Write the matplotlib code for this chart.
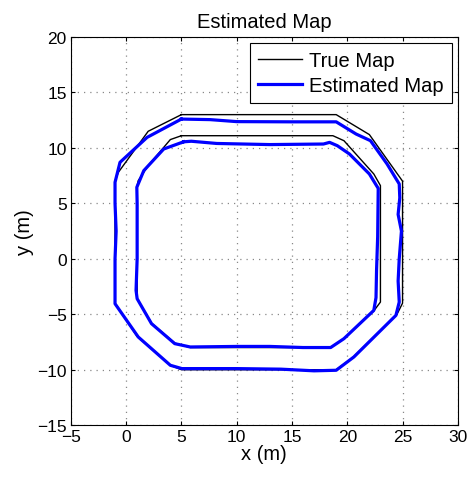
import numpy as np
import matplotlib
matplotlib.use("Agg")
import matplotlib.pyplot as plt

plt.rcParams['font.family'] = ['Liberation Sans', 'DejaVu Sans']

# true map (outer and inner walls)
true_outer_x = [5, 19, 22, 25, 25, 24.5, 20.5, 19, 5, 4, 1, -1, -1, -0.7, 2, 5]
true_outer_y = [13, 13, 11.2, 7, -4, -5, -8.9, -10, -10, -9.6, -7, -4, 7, 7.8, 11.5, 13]
true_inner_x = [5, 18.7, 19.7, 22.4, 23, 23, 22.4, 19.7, 18.5, 5.8, 4.4, 2.3, 1, 1, 1.1, 2, 4, 5]
true_inner_y = [11.1, 11.1, 10.65, 7.65, 6.6, -3.9, -4.7, -7.2, -8, -8, -7.6, -5.8, -3.6, 6.6, 7.05, 8.4, 10.75, 11.1]

# estimated map
est_outer_x = [5.0, 7.6, 10, 15, 19, 20.8, 22.1, 23.6, 24.7, 24.75, 24.6, 24.9, 24.7, 24.6, 24.7,
               24.4, 20.6, 19.0, 17, 14, 10, 5.05, 4, 1.1, -1, -1.0, -0.9, -1.0, -1, -0.55, 1.9, 5.0]
est_outer_y = [12.6, 12.55, 12.37, 12.35, 12.35, 11.25, 10.65, 8.55, 6.75, 5.5, 4.0, 2.5, 0, -2, -3.9,
               -5.1, -8.85, -10.05, -10.1, -9.95, -9.9, -9.9, -9.6, -7.05, -4.05, 0, 2.5, 5, 6.9, 8.7, 10.95, 12.6]
est_inner_x = [5.2, 5.9, 8.2, 13, 17.85, 18.4, 19.1, 20.2, 22, 22.8, 22.75, 22.65, 22.6, 22.4, 19.7,
               18.5, 16, 13, 10, 5.8, 4.4, 2.3, 1, 0.9, 1, 1, 0.97, 1.6, 3.4, 5.2]
est_inner_y = [10.55, 10.6, 10.4, 10.3, 10.35, 10.5, 10.2, 9.45, 7.65, 6.35, 2, -1, -3.5, -4.65, -7.2,
               -8.0, -8.0, -7.9, -7.9, -7.95, -7.65, -5.85, -3.6, -2.85, 0, 5, 6.45, 7.95, 9.9, 10.55]

fig = plt.figure(figsize=(4.72, 4.81), dpi=100)
ax = fig.add_axes([0.150, 0.114, 0.820, 0.807])

ax.plot(true_outer_x, true_outer_y, color='black', lw=1.0, label='True Map')
ax.plot(true_inner_x, true_inner_y, color='black', lw=1.0)
ax.plot(est_outer_x, est_outer_y, color='blue', lw=2.3, label='Estimated Map')
ax.plot(est_inner_x, est_inner_y, color='blue', lw=2.3)

ax.set_xlim(-5, 30)
ax.set_ylim(-15, 20)
ax.set_xticks(np.arange(-5, 31, 5))
ax.set_yticks(np.arange(-15, 21, 5))
ax.tick_params(direction='in', top=True, right=True, length=3, labelsize=12.5, pad=3)
ax.grid(True, linestyle=(0, (1, 4)), color='#888888', linewidth=0.9)
for s in ax.spines.values():
    s.set_linewidth(0.8)

ax.set_xlabel('x (m)', fontsize=14.5, labelpad=0)
ax.set_ylabel('y (m)', fontsize=14.5, labelpad=2)
ax.set_title('Estimated Map', fontsize=14.5, pad=7)

leg = ax.legend(loc='upper right', fontsize=14.5, fancybox=False, framealpha=1,
                edgecolor='black', handlelength=2.2, handletextpad=0.35, borderpad=0.4,
                labelspacing=0.3, borderaxespad=0.3)
leg.get_frame().set_linewidth(0.8)

fig.savefig('out.png', dpi=100)
